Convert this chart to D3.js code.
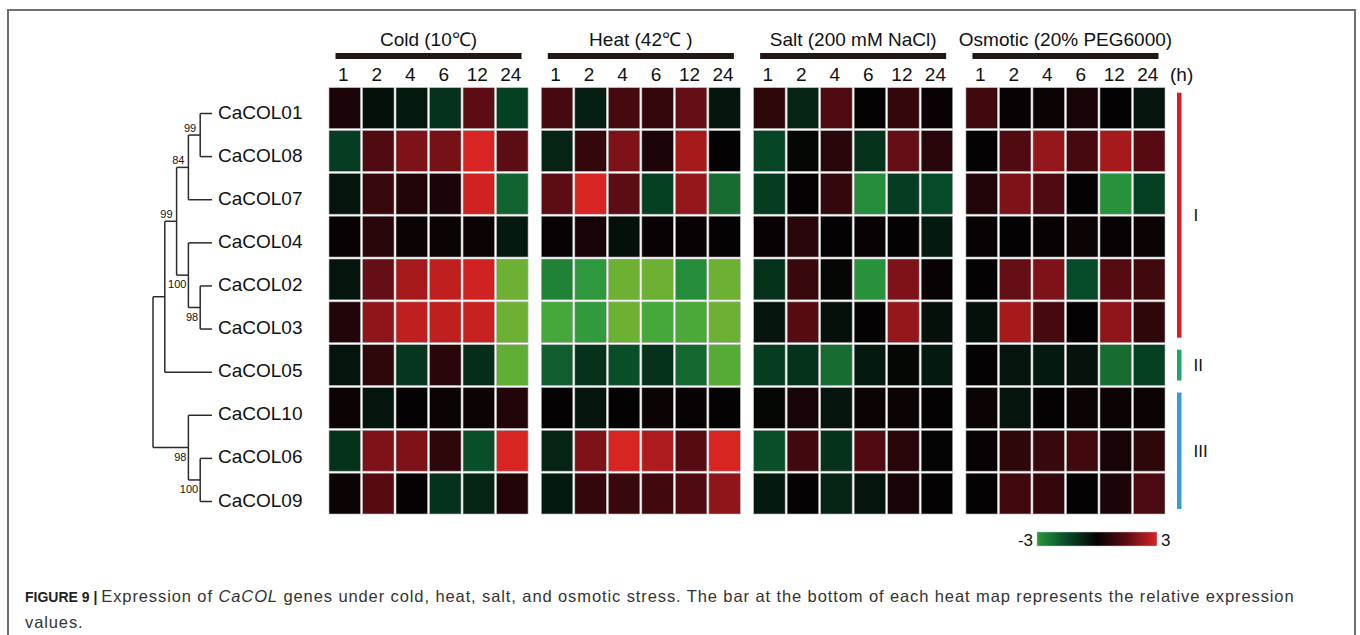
<!DOCTYPE html>
<html>
<head>
<meta charset="utf-8">
<script src="https://cdn.jsdelivr.net/npm/d3@7"></script>
<style>
  body { margin: 0; background: #fff; }
  svg { display: block; }
  text { font-family: "Liberation Sans", Arial, Helvetica, sans-serif; fill: #111; }
</style>
</head>
<body>
<svg id="fig" width="1360" height="635"></svg>
<script>
// ---- data ---------------------------------------------------------------
const genes = ["CaCOL01", "CaCOL08", "CaCOL07", "CaCOL04", "CaCOL02",
               "CaCOL03", "CaCOL05", "CaCOL10", "CaCOL06", "CaCOL09"];
const timePoints = ["1", "2", "4", "6", "12", "24"];
const treatments = ["Cold (10\u2103)", "Heat (42\u2103 )", "Salt (200 mM NaCl)", "Osmotic (20% PEG6000)"];

// relative expression (log2 scale), rows follow `genes`, columns follow `timePoints`
const coldValues = [
  [ 0.4, -0.3, -0.5, -1.0,  1.5, -1.3],
  [-1.2,  1.3,  1.9,  1.8,  3.0,  1.5],
  [-0.4,  0.9,  0.5,  0.4,  2.9, -2.0],
  [ 0.05, 0.6,  0.1,  0.1,  0.1, -0.5],
  [-0.4,  1.6,  2.4,  2.7,  2.9, -4.5],
  [ 0.5,  2.1,  2.7,  2.7,  2.8, -4.5],
  [-0.4,  0.7, -1.1,  0.6, -0.9, -4.3],
  [ 0.1, -0.4,  0.0,  0.1,  0.1,  0.5],
  [-1.0,  1.9,  1.9,  0.7, -1.6,  3.0],
  [ 0.1,  1.4,  0.0, -1.0, -0.7,  0.5]
];
const heatValues = [
  [ 1.1, -0.6,  1.1,  0.8,  1.6, -0.4],
  [-0.7,  0.8,  1.9,  0.4,  2.4,  0.0],
  [ 1.5,  3.0,  1.5, -1.3,  2.2, -2.2],
  [ 0.05, 0.3, -0.3,  0.05, 0.05, 0.0],
  [-2.6, -3.1, -4.5, -4.5, -2.8, -4.5],
  [-3.8, -3.2, -4.5, -3.8, -3.9, -4.5],
  [-1.9, -1.0, -1.6, -1.0, -2.1, -4.1],
  [ 0.0, -0.4,  0.0,  0.1,  0.05, 0.0],
  [-0.7,  1.9,  3.0,  2.5,  1.4,  3.0],
  [-0.5,  0.8,  0.9,  1.0,  1.3,  2.1]
];
const saltValues = [
  [ 0.7, -0.7,  1.3,  0.0,  0.8,  0.05],
  [-1.4, -0.1,  0.6, -1.0,  1.6,  0.6],
  [-1.2,  0.0,  0.8, -2.8, -1.2, -1.5],
  [ 0.05, 0.6,  0.0,  0.05, 0.0, -0.5],
  [-1.0,  0.9, -0.1, -2.9,  1.9,  0.05],
  [-0.4,  1.4, -0.3,  0.0,  2.2, -0.3],
  [-1.2, -1.0, -2.2, -0.5, -0.1, -0.5],
  [-0.1,  0.3, -0.4,  0.1,  0.1,  0.0],
  [-1.6,  1.0, -1.0,  1.3,  0.6, -0.05],
  [-0.5,  0.0, -0.7, -0.4,  0.3,  0.0]
];
const osmoticValues = [
  [ 1.0,  0.05, 0.1,  0.3,  0.0, -0.4],
  [ 0.0,  1.3,  2.2,  1.1,  2.4,  1.4],
  [ 0.5,  1.9,  1.3,  0.0, -2.9, -1.3],
  [ 0.05, 0.0,  0.05, 0.1,  0.05, 0.1],
  [ 0.0,  1.6,  1.9, -1.5,  1.4,  1.0],
  [-0.3,  2.4,  1.1,  0.0,  2.1,  0.7],
  [ 0.0, -0.4, -0.5, -0.35, -2.2, -1.3],
  [ 0.1, -0.4,  0.0,  0.1,  0.1,  0.1],
  [ 0.05, 0.7,  0.9,  1.0,  0.3,  0.7],
  [ 0.0,  1.0,  0.8,  0.0,  0.4,  1.2]
];
const panelValues = [coldValues, heatValues, saltValues, osmoticValues];

// phylogenetic tree: `level` is the node depth (leaves = 0), `support` the bootstrap value
const tree = { level: 5, children: [
  { level: 4, children: [
    { level: 3, support: 99, children: [
      { level: 2, support: 84, children: [
        { level: 1, support: 99, children: [{ name: "CaCOL01" }, { name: "CaCOL08" }] },
        { name: "CaCOL07" }
      ]},
      { level: 2, support: 100, children: [
        { name: "CaCOL04" },
        { level: 1, support: 98, children: [{ name: "CaCOL02" }, { name: "CaCOL03" }] }
      ]}
    ]},
    { name: "CaCOL05" }
  ]},
  { level: 2, support: 98, children: [
    { name: "CaCOL10" },
    { level: 1, support: 100, children: [{ name: "CaCOL06" }, { name: "CaCOL09" }] }
  ]}
]};

// subgroups (first gene, last gene)
const groupNames = ["I", "II", "III"];
const groupFirst = ["CaCOL01", "CaCOL05", "CaCOL10"];
const groupLast  = ["CaCOL03", "CaCOL05", "CaCOL09"];
const groupColors = ["#d81c24", "#22a466", "#3a9bd8"];

const legendTicks = [-3, 3];

// ---- scales -------------------------------------------------------------
const svg = d3.select("#fig");

const color = d3.scaleLinear()
  .domain([-4.5, -3.8, -3, -1.5, 0, 1.5, 3])
  .range(["#6cb034", "#46a83a", "#2a963c", "#064a28", "#050203", "#5c0c14", "#d82422"])
  .clamp(true);

const panelX = d3.scaleBand().domain(treatments).range([328, 1166]).paddingInner(0.053);
const rowY = d3.scaleBand().domain(genes).range([86.7, 515]);
const treeY = d3.scalePoint().domain(genes).range([113.5, 501.5]);
const levelX = d3.scaleLinear().domain([0, 5]).range([212, 153]);

// ---- frame --------------------------------------------------------------
svg.append("path")
  .attr("d", "M8,640V10H1355V640")
  .attr("fill", "none").attr("stroke", "#707070").attr("stroke-width", 2);

// ---- heat map panels ----------------------------------------------------
treatments.forEach((t, pi) => {
  const x0 = panelX(t), w = panelX.bandwidth();
  const colX = d3.scaleBand().domain(timePoints).range([x0, x0 + w]);
  const g = svg.append("g");

  g.append("text")
    .attr("x", x0 + w / 2).attr("y", 46)
    .attr("text-anchor", "middle").attr("font-size", 19)
    .text(t);

  g.append("line")
    .attr("x1", x0 + 7.5).attr("x2", x0 + w - 7.5)
    .attr("y1", 56).attr("y2", 56)
    .attr("stroke", "#231815").attr("stroke-width", 6);

  g.selectAll("text.tp").data(timePoints).join("text")
    .attr("class", "tp")
    .attr("x", d => colX(d) + colX.bandwidth() / 2 - 1.5)
    .attr("y", 81)
    .attr("text-anchor", "middle").attr("font-size", 19)
    .text(d => d);

  const cells = [];
  genes.forEach((gene, ri) => timePoints.forEach((tp, ci) =>
    cells.push({ gene, tp, v: panelValues[pi][ri][ci] })));

  g.selectAll("rect.cell").data(cells).join("rect")
    .attr("class", "cell")
    .attr("x", d => colX(d.tp) + 1)
    .attr("y", d => rowY(d.gene) + 1)
    .attr("width", colX.bandwidth() - 2)
    .attr("height", rowY.bandwidth() - 2)
    .attr("fill", d => color(d.v))
    .attr("stroke", "#b8b8b8").attr("stroke-width", 0.6);
});

// time unit
const lastX = panelX(treatments[treatments.length - 1]) + panelX.bandwidth();
svg.append("text").attr("x", lastX + 4).attr("y", 81)
  .attr("font-size", 19).text("(h)");

// ---- tree ---------------------------------------------------------------
const root = d3.hierarchy(tree);
root.eachAfter(n => {
  if (!n.children) { n.x = levelX(0); n.y = treeY(n.data.name); }
  else {
    n.x = levelX(n.data.level);
    n.y = (n.children[0].y + n.children[n.children.length - 1].y) / 2;
  }
});

const tg = svg.append("g").attr("fill", "none").attr("stroke", "#2b2b2b").attr("stroke-width", 1.5);
root.descendants().filter(n => n.children).forEach(n => {
  const first = n.children[0], last = n.children[n.children.length - 1];
  tg.append("line").attr("x1", n.x).attr("x2", n.x).attr("y1", first.y).attr("y2", last.y);
  n.children.forEach(c => {
    tg.append("line").attr("x1", n.x).attr("x2", c.x).attr("y1", c.y).attr("y2", c.y);
  });
});

// bootstrap support
root.descendants().filter(n => n.data.support).forEach(n => {
  const upper = n.parent && n.parent.children[0] === n;
  svg.append("text")
    .attr("x", upper ? n.x - 4 : n.x - 2)
    .attr("y", upper ? n.y - 3 : n.y + 13)
    .attr("text-anchor", "end").attr("font-size", 11)
    .attr("fill", "#222")
    .text(n.data.support);
});

// gene labels
svg.selectAll("text.gene").data(genes).join("text")
  .attr("class", "gene")
  .attr("x", levelX(0) + 6).attr("y", d => treeY(d) + 5)
  .attr("font-size", 19)
  .text(d => d);

// ---- subgroup bars ------------------------------------------------------
groupNames.forEach((name, i) => {
  const y1 = rowY(groupFirst[i]) + 6;
  const y2 = rowY(groupLast[i]) + rowY.bandwidth() - 6;
  svg.append("rect").attr("x", 1177).attr("y", y1).attr("width", 4.5).attr("height", y2 - y1)
    .attr("fill", groupColors[i]);
  svg.append("text").attr("x", 1193.5).attr("y", (y1 + y2) / 2 + 6)
    .attr("font-size", 17).text(name);
});

// ---- colour legend ------------------------------------------------------
const legX = d3.scaleLinear().domain(legendTicks).range([1037, 1157]);
const grad = svg.append("defs").append("linearGradient").attr("id", "legendGrad");
d3.range(0, 1.0001, 0.05).forEach(f => {
  const v = legendTicks[0] + f * (legendTicks[1] - legendTicks[0]);
  grad.append("stop").attr("offset", f).attr("stop-color", color(v));
});
svg.append("rect").attr("x", legX(-3)).attr("y", 532)
  .attr("width", legX(3) - legX(-3)).attr("height", 14)
  .attr("fill", "url(#legendGrad)").attr("stroke", "#c8c8c8").attr("stroke-width", 0.5);
svg.append("text").attr("x", legX(-3) - 4).attr("y", 545.5).attr("text-anchor", "end")
  .attr("font-size", 17).text(legendTicks[0]);
svg.append("text").attr("x", legX(3) + 4).attr("y", 545.5)
  .attr("font-size", 17).text(legendTicks[1]);

// ---- caption ------------------------------------------------------------
const cap = svg.append("text").attr("x", 25).attr("y", 602).attr("font-size", 16.5).style("fill", "#333");
cap.append("tspan").attr("font-weight", "bold").attr("font-size", 14).style("fill", "#222").text("FIGURE 9 | ");
cap.append("tspan").attr("letter-spacing", 0.9).text("Expression of ");
cap.append("tspan").attr("font-style", "italic").attr("letter-spacing", 0.9).text("CaCOL");
cap.append("tspan").attr("letter-spacing", 0.9)
  .text(" genes under cold, heat, salt, and osmotic stress. The bar at the bottom of each heat map represents the relative expression");
svg.append("text").attr("x", 25).attr("y", 628).attr("font-size", 16.5).attr("letter-spacing", 0.9)
  .style("fill", "#333").text("values.");
</script>
</body>
</html>
